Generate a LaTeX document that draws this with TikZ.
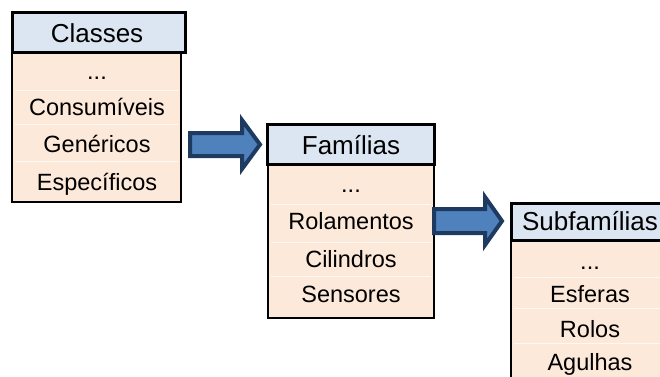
\documentclass[tikz,border=0pt]{standalone}
\usepackage{fontspec}
\setmainfont{Liberation Sans}
\definecolor{headfill}{HTML}{DCE6F2}
\definecolor{bodyfill}{HTML}{FDE9D9}
\definecolor{arrowfill}{HTML}{4F81BD}
\definecolor{arrowline}{HTML}{1F3A5F}
\tikzset{
  headbox/.style={draw=black, line width=3pt, fill=headfill},
  bodybox/.style={draw=black, line width=2.6pt, fill=bodyfill},
  rowsep/.style={draw=white, line width=0.8pt, opacity=0.7},
  headtext/.style={anchor=base, inner sep=0pt, font=\fontsize{26}{28}\selectfont},
  itemtext/.style={anchor=base, inner sep=0pt, font=\fontsize{23.5}{26}\selectfont},
  blockarrow/.style={draw=arrowline, line width=4pt, fill=arrowfill, line join=miter},
}
\begin{document}
\begin{tikzpicture}[x=1pt, y=-1pt]
\useasboundingbox (0,0) rectangle (660,376);
\clip (0,0) rectangle (660,376);

% Classes
\draw[bodybox] (12,52) rectangle (181,202);
\draw[rowsep] (15,90) -- (178,90) (15,124) -- (178,124) (15,161) -- (178,161);
\draw[headbox] (12,12) rectangle (185,52);
\node[headtext] (classes) at (97,42) {Classes};
\node[itemtext] (c1) at (97,79) {...};
\node[itemtext] (c2) at (97,115) {Consumíveis};
\node[itemtext] (c3) at (97,152) {Genéricos};
\node[itemtext] (c4) at (97,190) {Específicos};

% Famílias
\draw[bodybox] (268,164) rectangle (434,318);
\draw[rowsep] (271,204) -- (431,204) (271,242) -- (431,242) (271,276) -- (431,276);
\draw[headbox] (267,124) rectangle (434,164);
\node[headtext] (familias) at (351,154) {Famílias};
\node[itemtext] (f1) at (351,192) {...};
\node[itemtext] (f2) at (351,229) {Rolamentos};
\node[itemtext] (f3) at (351,267) {Cilindros};
\node[itemtext] (f4) at (351,302) {Sensores};

% Subfamílias
\draw[bodybox] (511,240) rectangle (680,400);
\draw[rowsep] (514,277) -- (680,277) (514,308) -- (680,308) (514,343) -- (680,343);
\draw[headbox] (511,203) rectangle (680,240);
\node[headtext] (subfamilias) at (590,230) {Subfamílias};
\node[itemtext] (s1) at (590,269) {...};
\node[itemtext] (s2) at (590,302) {Esferas};
\node[itemtext] (s3) at (590,337) {Rolos};
\node[itemtext] (s4) at (590,370) {Agulhas};

% Block arrows between the levels
\draw[blockarrow] (190,133) -- (242,133) -- (242,120) -- (260,144.5)
  -- (242,169) -- (242,156) -- (190,156) -- cycle;
\draw[blockarrow] (434,209) -- (485,209) -- (485,197) -- (502,221)
  -- (485,245) -- (485,233) -- (434,233) -- cycle;
\end{tikzpicture}
\end{document}
